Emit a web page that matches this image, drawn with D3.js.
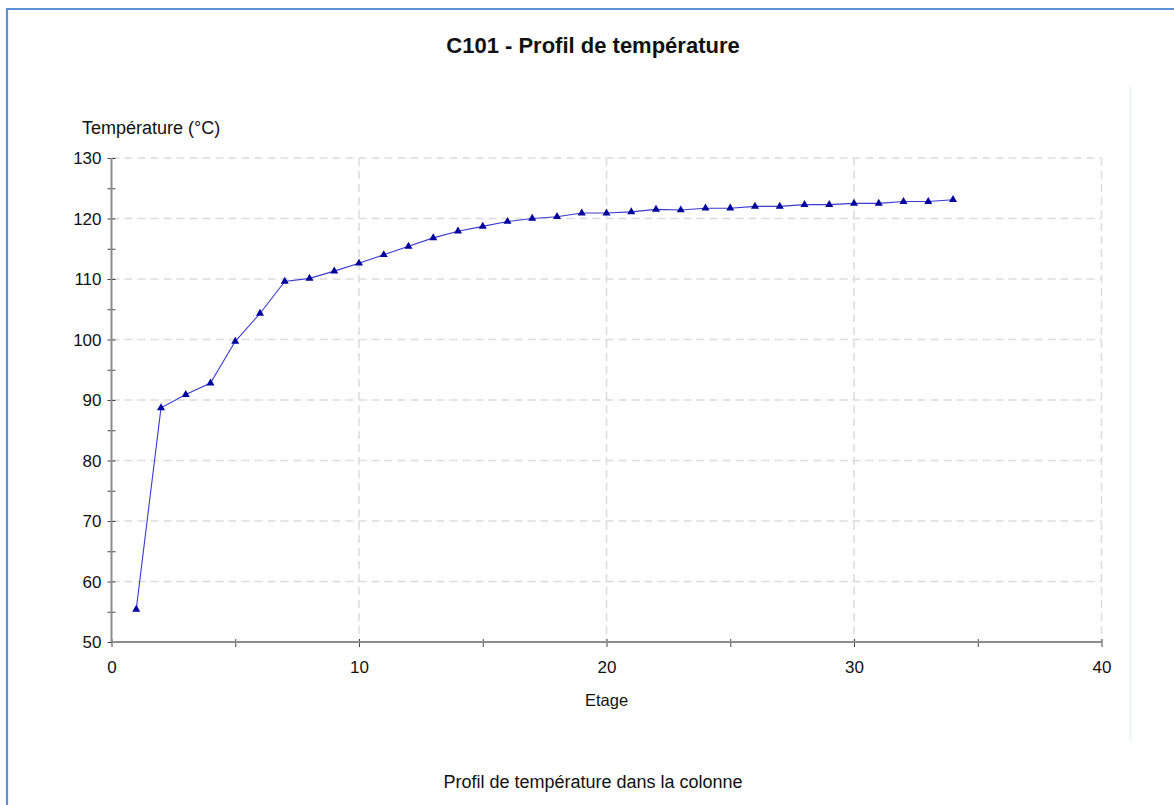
<!DOCTYPE html>
<html>
<head>
<meta charset="utf-8">
<script src="https://cdn.jsdelivr.net/npm/d3@7"></script>
<style>
  html, body { margin: 0; padding: 0; background: #fff; }
  svg { display: block; font-family: "Liberation Sans", Arial, sans-serif; }
</style>
</head>
<body>
<svg id="chart" width="1174" height="805"></svg>
<script>
// ---- data ----
const stages = [1,2,3,4,5,6,7,8,9,10,11,12,13,14,15,16,17,18,19,20,21,22,23,24,25,26,27,28,29,30,31,32,33,34];
const temperatures = [55.4, 88.7, 90.9, 92.8, 99.7, 104.3, 109.6, 110.1, 111.3, 112.6, 114.0, 115.4, 116.8, 117.9,
                      118.7, 119.5, 120.0, 120.3, 120.9, 120.9, 121.1, 121.5, 121.4, 121.7, 121.7, 122.0, 122.0,
                      122.3, 122.3, 122.5, 122.5, 122.8, 122.8, 123.1];
const xTicks = [0, 10, 20, 30, 40];
const xMinorTicks = [5, 15, 25, 35];
const yTicks = [50, 60, 70, 80, 90, 100, 110, 120, 130];
const yMinorTicks = [55, 65, 75, 85, 95, 105, 115, 125];
const titleText = "C101 - Profil de température";
const xLabel = "Etage";
const yLabel = "Température (°C)";
const subtitleText = "Profil de température dans la colonne";

// ---- layout ----
const svg = d3.select("#chart");
const pL = 111.5, pR = 1101.5, pT = 158, pB = 642;

const x = d3.scaleLinear().domain([0, 40]).range([pL, pR]);
const y = d3.scaleLinear().domain([50, 130]).range([pB, pT]);

// outer frame
svg.append("path")
  .attr("d", `M7,820 L7,9 L1190,9`)
  .attr("fill", "none").attr("stroke", "#5b8fd6").attr("stroke-width", 2.2);

// faint vertical separator on right
svg.append("line")
  .attr("x1", 1130.5).attr("x2", 1130.5).attr("y1", 87).attr("y2", 742)
  .attr("stroke", "#eef2f8").attr("stroke-width", 2);

// grid
const grid = svg.append("g").attr("stroke", "#dcdcdc").attr("stroke-width", 1.5).attr("stroke-dasharray", "8,5");
yTicks.filter(v => v > 50).forEach(v => {
  grid.append("line").attr("x1", pL).attr("x2", pR).attr("y1", y(v)).attr("y2", y(v));
});
xTicks.filter(v => v > 0).forEach(v => {
  grid.append("line").attr("x1", x(v)).attr("x2", x(v)).attr("y1", pT).attr("y2", pB);
});

// axes (d3 axes, styled)
const yAxis = d3.axisLeft(y).tickValues(yTicks).tickSize(4).tickPadding(6).tickFormat(d3.format("d"));
const yAxisMinor = d3.axisLeft(y).tickValues(yMinorTicks).tickSize(4).tickFormat("");
const xAxis = d3.axisBottom(x).tickValues(xTicks).tickSize(5).tickPadding(14).tickFormat(d3.format("d"));
const xAxisMinor = d3.axisBottom(x).tickValues(xMinorTicks).tickSize(5).tickFormat("");

function styleAxis(g) {
  g.select(".domain").remove();
  g.selectAll(".tick line").attr("stroke", "#444").attr("stroke-width", 1);
  g.selectAll(".tick text").attr("fill", "#111").style("font-size", "17px")
    .style("font-family", '"Liberation Sans", Arial, sans-serif');
}

const gy = svg.append("g").attr("transform", `translate(${pL},0)`).call(yAxis).call(styleAxis);
const gym = svg.append("g").attr("transform", `translate(${pL},0)`).call(yAxisMinor).call(styleAxis);
[gy, gym].forEach(g => g.selectAll(".tick line").attr("x2", -4).attr("x1", 4));
gy.selectAll(".tick text").attr("dy", "0.35em");

const gx = svg.append("g").attr("transform", `translate(0,${pB})`).call(xAxis).call(styleAxis);
const gxm = svg.append("g").attr("transform", `translate(0,${pB})`).call(xAxisMinor).call(styleAxis);
[gx, gxm].forEach(g => g.selectAll(".tick line").attr("y1", -3).attr("y2", 5));

// axis lines
svg.append("line").attr("x1", pL).attr("x2", pL).attr("y1", pT).attr("y2", pB)
  .attr("stroke", "#8c8c8c").attr("stroke-width", 2);
svg.append("line").attr("x1", pL).attr("x2", pR).attr("y1", pB).attr("y2", pB)
  .attr("stroke", "#8c8c8c").attr("stroke-width", 2);

// data line
const data = stages.map((s, i) => ({ s, t: temperatures[i] }));
svg.append("path")
  .datum(data)
  .attr("fill", "none")
  .attr("stroke", "#3a3ad0")
  .attr("stroke-width", 1.1)
  .attr("d", d3.line().x(d => x(d.s)).y(d => y(d.t)));

// markers
const tri = d3.symbol().type(d3.symbolTriangle).size(28);
svg.append("g").selectAll("path").data(data).join("path")
  .attr("d", tri)
  .attr("transform", d => `translate(${x(d.s)},${y(d.t)})`)
  .attr("fill", "#00009c");

// texts
svg.append("text").attr("x", 593).attr("y", 53).attr("text-anchor", "middle")
  .style("font-size", "22px").style("font-weight", "bold").attr("fill", "#111").text(titleText);
svg.append("text").attr("x", 82).attr("y", 134).attr("text-anchor", "start")
  .style("font-size", "18px").attr("fill", "#111").text(yLabel);
svg.append("text").attr("x", 606.5).attr("y", 706).attr("text-anchor", "middle")
  .style("font-size", "16.5px").attr("fill", "#111").text(xLabel);
svg.append("text").attr("x", 593).attr("y", 788).attr("text-anchor", "middle")
  .style("font-size", "18px").attr("fill", "#111").text(subtitleText);
</script>
</body>
</html>
